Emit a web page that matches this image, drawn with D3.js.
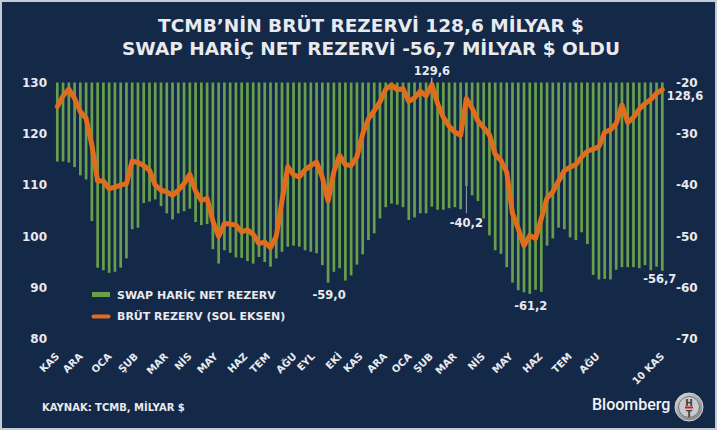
<!DOCTYPE html>
<html>
<head>
<meta charset="utf-8">
<script src="https://cdn.jsdelivr.net/npm/d3@7"></script>
<style>
    html, body { margin: 0; padding: 0; background: #142848; }
    svg { display: block; }
    text { font-family: "DejaVu Sans", sans-serif; font-weight: bold; fill: #e8eaee; }
</style>
</head>
<body>
<div id="chart"></div>
<script>
// weekly data, KAS (first year) .. 10 KAS (third year)
// gross reserves, left axis (bn $)
const gross = [
    125.3, 127.4, 128.7, 126.9, 124.3, 123.0, 117.8, 110.8, 110.8, 109.3,
    109.6, 110.0, 110.3, 114.7, 114.4, 113.8, 112.9, 110.0, 109.0, 108.7,
    108.0, 109.0, 110.3, 112.1, 108.8, 107.0, 107.4, 103.0, 100.0, 102.5,
    102.4, 102.2, 100.9, 101.3, 100.4, 98.6, 98.9, 97.8, 100.0, 107.0,
    113.6, 112.0, 111.6, 113.0, 113.8, 114.5, 111.5, 106.9, 112.6, 115.8,
    114.0, 113.8, 115.5, 120.0, 122.9, 124.5, 126.2, 128.7, 129.5, 128.6,
    128.8, 126.3, 127.0, 128.3, 127.4, 129.6, 125.9, 123.2, 121.5, 120.3,
    119.7, 126.9, 125.0, 122.5, 121.2, 119.8, 116.0, 114.8, 112.5, 104.5,
    101.5, 98.2, 100.2, 99.6, 103.5, 107.5, 108.7, 110.8, 112.8, 113.5,
    114.0, 115.5, 116.6, 117.0, 117.5, 120.3, 120.8, 122.0, 125.6, 122.2,
    123.2, 124.8, 125.9, 126.7, 127.9, 128.6
];

// net reserves excluding swaps, right axis (bn $)
const netExSwap = [
    -35.4, -35.4, -35.6, -36.5, -38.1, -38.9, -47.0, -56.1, -56.6, -57.1,
    -56.9, -56.1, -54.3, -48.6, -48.3, -43.5, -43.2, -42.8, -44.1, -45.5,
    -46.7, -45.5, -45.1, -44.6, -47.2, -47.8, -47.6, -52.5, -55.3, -52.7,
    -53.2, -54.1, -54.2, -54.8, -55.3, -54.0, -55.0, -55.9, -54.3, -53.0,
    -52.0, -51.8, -52.0, -52.7, -53.0, -53.3, -55.6, -59.0, -56.9, -56.2,
    -58.6, -57.6, -55.5, -53.5, -50.7, -49.4, -46.5, -44.3, -43.6, -43.8,
    -44.3, -46.8, -46.3, -45.5, -45.5, -44.2, -44.8, -44.8, -44.5, -44.3,
    -44.7, -40.2, -42.0, -43.1, -46.5, -49.8, -52.7, -53.4, -56.0, -59.0,
    -60.5, -60.9, -61.2, -60.4, -60.8, -51.8, -50.4, -48.3, -48.6, -50.2,
    -50.7, -49.2, -51.5, -57.5, -58.4, -58.3, -58.4, -56.5, -56.0, -56.0,
    -56.0, -56.2, -55.6, -56.6, -55.9, -56.7
];

const monthLabels = ['KAS', 'ARA', 'OCA', 'ŞUB', 'MAR', 'NİS', 'MAY', 'HAZ', 'TEM', 'AĞU', 'EYL', 'EKİ',
    'KAS', 'ARA', 'OCA', 'ŞUB', 'MAR', 'NİS', 'MAY', 'HAZ', 'TEM', 'AĞU', '10 KAS'];
// week index each month label sits on
const monthPos = [0, 4.1, 9.1, 13.7, 18.9, 23, 27.5, 32.7, 36.6, 41.2, 44.4, 49.1,
    52.7, 56.9, 61.2, 64.9, 69, 73.9, 78.7, 83.9, 89, 93.8, 105];

const leftTicks = [80, 90, 100, 110, 120, 130];
const rightTicks = [-70, -60, -50, -40, -30, -20];

const titleLines = ['TCMB’NİN BRÜT REZERVİ 128,6 MİLYAR $', 'SWAP HARİÇ NET REZERVİ -56,7 MİLYAR $ OLDU'];
const legendLabels = ['SWAP HARİÇ NET REZERV', 'BRÜT REZERV (SOL EKSEN)'];
const sourceText = 'KAYNAK: TCMB, MİLYAR $';

const width = 717;
const height = 430;
const green = '#689f4a';
const orange = '#e06d1d';

// turkish style numbers, plain hyphen for minus
const trLocale = d3.formatLocale({ decimal: ',', thousands: '.', grouping: [3], currency: ['', '$'], minus: '-' });
const fmt = trLocale.format('.1f');
const fmtTick = trLocale.format('d');

const svg = d3.select('#chart')
    .append('svg')
    .attr('width', width)
    .attr('height', height);

svg.append('rect')
    .attr('x', 1).attr('y', 1)
    .attr('width', width - 2).attr('height', height - 2)
    .attr('fill', '#142848')
    .attr('stroke', '#c3ccd6')
    .attr('stroke-width', 2);

const x = d3.scaleLinear().domain([0, gross.length - 1]).range([57.3, 662.3]);
const yL = d3.scaleLinear().domain([80, 130]).range([339, 82.5]);
const yR = d3.scaleLinear().domain([-70, -20]).range([339, 82.5]);

// title
svg.append('g')
    .selectAll('text')
    .data(titleLines)
    .enter()
    .append('text')
    .attr('x', 371)
    .attr('y', (d, i) => 32 + i * 23)
    .attr('text-anchor', 'middle')
    .style('font-size', '18.5px')
    .text((d) => d);

// bars hang from the top of the right axis
const bw = 2.7;
svg.append('g')
    .selectAll('rect')
    .data(netExSwap)
    .enter()
    .append('rect')
    .attr('x', (d, i) => x(i) - bw / 2)
    .attr('y', yR(-20))
    .attr('width', bw)
    .attr('height', (d) => yR(d) - yR(-20))
    .attr('fill', green);

// gross reserve line
const line = d3.line()
    .x((d, i) => x(i))
    .y((d) => yL(d));

svg.append('path')
    .datum(gross)
    .attr('d', line)
    .attr('fill', 'none')
    .attr('stroke', orange)
    .attr('stroke-width', 5)
    .attr('stroke-linejoin', 'round')
    .attr('stroke-linecap', 'round');

// axes
const leftAxis = svg.append('g')
    .attr('transform', 'translate(50,0)')
    .call(d3.axisLeft(yL).tickValues(leftTicks).tickFormat(fmtTick).tickSize(0).tickPadding(3));
const rightAxis = svg.append('g')
    .attr('transform', 'translate(673,0)')
    .call(d3.axisRight(yR).tickValues(rightTicks).tickFormat(fmtTick).tickSize(0).tickPadding(3));
[leftAxis, rightAxis].forEach((g) => {
    g.select('.domain').remove();
    g.selectAll('text')
        .attr('fill', null)
        .style('font-size', '12px')
        .style('font-family', '"DejaVu Sans", sans-serif')
        .style('font-weight', 'bold');
});

const bottomAxis = svg.append('g')
    .attr('transform', 'translate(0,357)')
    .call(d3.axisBottom(x).tickValues(monthPos).tickSize(0).tickFormat((d, i) => monthLabels[i]));
bottomAxis.select('.domain').remove();
bottomAxis.selectAll('text')
    .attr('fill', null)
    .attr('x', 0)
    .attr('y', 0)
    .attr('dy', 0)
    .attr('text-anchor', 'end')
    .attr('transform', 'translate(2,0) rotate(-45)')
    .style('font-size', '10px')
    .style('font-family', '"DejaVu Sans", sans-serif')
    .style('font-weight', 'bold');

// value call-outs
const iMax = gross.indexOf(d3.max(gross));
const iLast = gross.length - 1;
const iMin1 = netExSwap.indexOf(d3.min(netExSwap.slice(0, 60)));
const iMin2 = netExSwap.indexOf(d3.min(netExSwap));
const iNetTop = 71;

const notes = [
    { x: x(iMax), y: yL(gross[iMax]) - 9.5, t: fmt(gross[iMax]), a: 'middle' },
    { x: x(iLast) + 4.5, y: yL(gross[iLast]) + 10, t: fmt(gross[iLast]), a: 'start' },
    { x: x(iMin1) + 1, y: yR(netExSwap[iMin1]) + 16.5, t: fmt(netExSwap[iMin1]), a: 'middle' },
    { x: x(iNetTop), y: yR(netExSwap[iNetTop]) + 40.5, t: fmt(netExSwap[iNetTop]), a: 'middle' },
    { x: x(iMin2) + 1, y: yR(netExSwap[iMin2]) + 16, t: fmt(netExSwap[iMin2]), a: 'middle' },
    { x: x(iLast) + 14, y: yR(netExSwap[iLast]) + 12, t: fmt(netExSwap[iLast]), a: 'end' },
];
svg.append('g')
    .selectAll('text')
    .data(notes)
    .enter()
    .append('text')
    .attr('x', (d) => d.x)
    .attr('y', (d) => d.y)
    .attr('text-anchor', (d) => d.a)
    .style('font-size', '11.5px')
    .text((d) => d.t);

// leader lines
svg.append('line')
    .attr('x1', x(iMax)).attr('x2', x(iMax))
    .attr('y1', yL(gross[iMax]) - 7).attr('y2', yL(gross[iMax]) - 2)
    .attr('stroke', '#d8dce4').attr('stroke-width', 1);
svg.append('line')
    .attr('x1', x(iNetTop)).attr('x2', x(iNetTop))
    .attr('y1', yR(netExSwap[iNetTop])).attr('y2', yR(netExSwap[iNetTop]) + 27)
    .attr('stroke', '#9aa6b8').attr('stroke-width', 1);

// legend
const legend = svg.append('g').attr('transform', 'translate(92,0)');
legend.append('rect')
    .attr('x', 0).attr('y', 292)
    .attr('width', 18).attr('height', 5)
    .attr('fill', green);
legend.append('line')
    .attr('x1', 1.5).attr('x2', 16.5)
    .attr('y1', 316.5).attr('y2', 316.5)
    .attr('stroke', orange)
    .attr('stroke-width', 4)
    .attr('stroke-linecap', 'round');
legend.selectAll('text')
    .data(legendLabels)
    .enter()
    .append('text')
    .attr('x', 25)
    .attr('y', (d, i) => 298.5 + i * 21.5)
    .style('font-size', '11px')
    .text((d) => d);

// source
svg.append('text')
    .attr('x', 42)
    .attr('y', 411)
    .style('font-size', '10px')
    .text(sourceText);

// Bloomberg HT mark
svg.append('text')
    .attr('x', 592)
    .attr('y', 410)
    .style('font-family', 'Roboto, "Open Sans", sans-serif')
    .style('font-weight', 500)
    .style('font-size', '16px')
    .style('fill', '#f2f3f5')
    .text('Bloomberg');

const defs = svg.append('defs');
const grad = defs.append('radialGradient').attr('id', 'ring').attr('cx', '40%').attr('cy', '35%').attr('r', '70%');
grad.append('stop').attr('offset', '0%').attr('stop-color', '#f4f4f4');
grad.append('stop').attr('offset', '100%').attr('stop-color', '#7d7f84');

const logo = svg.append('g').attr('transform', 'translate(689,407)');
logo.append('circle').attr('r', 14).attr('fill', 'url(#ring)').attr('stroke', '#d6d8dc').attr('stroke-width', 1);
logo.append('circle').attr('r', 10.5).attr('fill', '#c9cacd').attr('stroke', '#6f7277').attr('stroke-width', 1);
logo.append('text').attr('x', 0).attr('y', -1.5).attr('text-anchor', 'middle')
    .style('font-size', '9px').style('fill', '#3a3c40').text('H');
logo.append('rect').attr('x', -4).attr('y', -0.5).attr('width', 8).attr('height', 2).attr('fill', '#c8202a');
logo.append('text').attr('x', 0).attr('y', 9.5).attr('text-anchor', 'middle')
    .style('font-size', '9px').style('fill', '#3a3c40').text('T');
</script>
</body>
</html>
